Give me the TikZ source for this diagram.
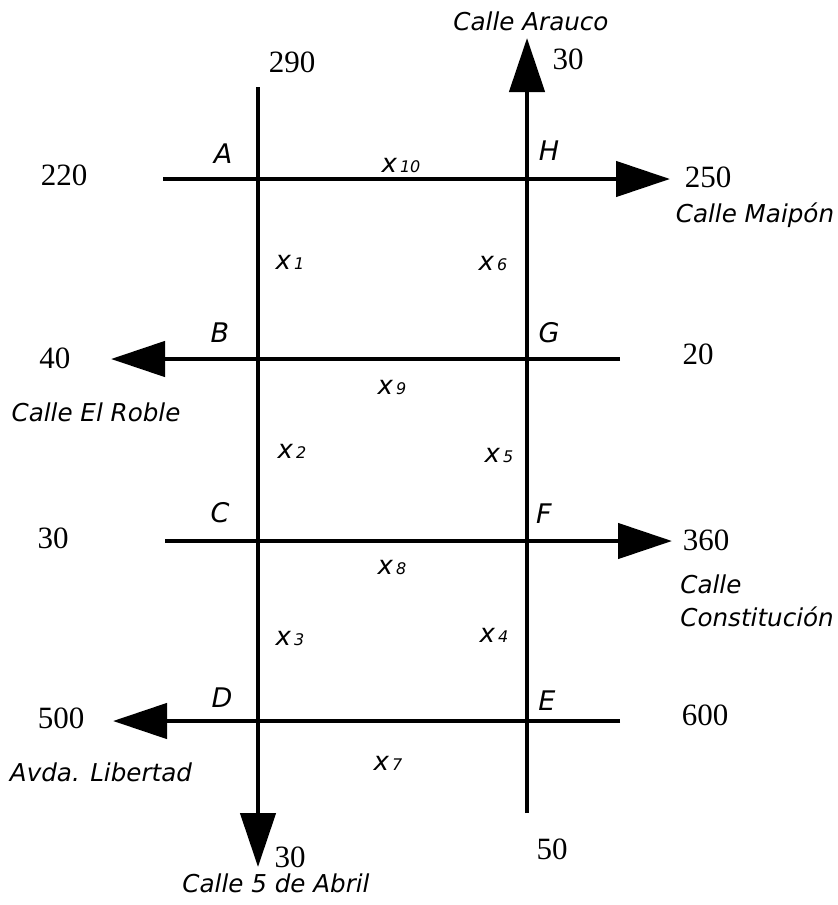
\documentclass[tikz,border=0pt]{standalone}
\usepackage{fontspec}
\setmainfont{Liberation Serif}
\newfontfamily\verdana{DejaVu Sans}
\usepackage{tikz}
\usetikzlibrary{arrows.meta,positioning}

\newcommand{\flujo}[1]{x\kern1.5pt{\fontsize{8}{9}\selectfont #1}}

\begin{document}
\begin{tikzpicture}[x=0.5pt,y=-0.5pt,
        calle/.style={line width=2.3pt},
        sentido/.style={calle,-{Triangle[length=27pt,width=17.5pt]}},
        cantidad/.style={font=\fontsize{15.5}{18}\selectfont,inner sep=0pt},
        esquina/.style={font=\verdana\itshape\fontsize{13.5}{15}\selectfont,inner sep=0pt},
        incognita/.style={font=\verdana\itshape\fontsize{13}{15}\selectfont,inner sep=0pt},
        nombre/.style={font=\verdana\itshape\fontsize{12.3}{16.5}\selectfont,inner sep=0pt,align=left}]
        \useasboundingbox (0,0) rectangle (837,905);
        % intersections
        \coordinate (A) at (258,179);
        \coordinate (B) at (258,359);
        \coordinate (C) at (258,541);
        \coordinate (D) at (258,721);
        \coordinate (H) at (527,179);
        \coordinate (G) at (527,359);
        \coordinate (F) at (527,541);
        \coordinate (E) at (527,721);
        % free ends of the streets
        \coordinate (abrilN) at (258,87);
        \coordinate (abrilS) at (258,867);
        \coordinate (araucoN) at (527,38);
        \coordinate (araucoS) at (527,813);
        \coordinate (maiponW) at (163,179);
        \coordinate (maiponE) at (670,179);
        \coordinate (robleW) at (111,359);
        \coordinate (robleE) at (620,359);
        \coordinate (constW) at (165,541);
        \coordinate (constE) at (672,541);
        \coordinate (libW) at (113,721);
        \coordinate (libE) at (620,721);
        % streets
        \draw[sentido] (abrilN) -- (A) -- (B) -- (C) -- (D) -- (abrilS);
        \draw[sentido] (araucoS) -- (E) -- (F) -- (G) -- (H) -- (araucoN);
        \draw[sentido] (maiponW) -- (A) -- (H) -- (maiponE);
        \draw[sentido] (robleE) -- (G) -- (B) -- (robleW);
        \draw[sentido] (constW) -- (C) -- (F) -- (constE);
        \draw[sentido] (libE) -- (E) -- (D) -- (libW);
        % corner letters
        \node[esquina, anchor=base] (lblA) at (223,163) {A};
        \node[esquina, anchor=base] (lblB) at (220,342) {B};
        \node[esquina, anchor=base] (lblC) at (220,522) {C};
        \node[esquina, anchor=base] (lblD) at (222,707) {D};
        \node[esquina, anchor=base] (lblH) at (549,160) {H};
        \node[esquina, anchor=base] (lblG) at (549,342) {G};
        \node[esquina, anchor=base] (lblF) at (544,523) {F};
        \node[esquina, anchor=base] (lblE) at (547,710) {E};
        % unknown flows
        \node[incognita] (x10) at (401,165) {\flujo{10}};
        \node[incognita] (x1) at (290,262) {\flujo{1}};
        \node[incognita] (x6) at (493,263) {\flujo{6}};
        \node[incognita] (x9) at (392,387) {\flujo{9}};
        \node[incognita] (x2) at (292,451) {\flujo{2}};
        \node[incognita] (x5) at (499,455) {\flujo{5}};
        \node[incognita] (x8) at (392,567) {\flujo{8}};
        \node[incognita] (x3) at (290,638) {\flujo{3}};
        \node[incognita] (x4) at (494,635) {\flujo{4}};
        \node[incognita] (x7) at (388,763) {\flujo{7}};
        % known flows
        \node[cantidad] (q290) at (292,62) {290};
        \node[cantidad] (q30a) at (568,59) {30};
        \node[cantidad] (q220) at (64,175) {220};
        \node[cantidad] (q250) at (708,177) {250};
        \node[cantidad] (q40) at (55,358) {40};
        \node[cantidad] (q20) at (698,354) {20};
        \node[cantidad] (q30b) at (53,538) {30};
        \node[cantidad] (q360) at (706,540) {360};
        \node[cantidad] (q500) at (61,718) {500};
        \node[cantidad] (q600) at (705,715) {600};
        \node[cantidad] (q30c) at (290,857) {30};
        \node[cantidad] (q50) at (552,849) {50};
        % street names
        \node[nombre, anchor=base] (arauco) at (531,30) {Calle Arauco};
        \node[nombre, anchor=base] (maipon) at (755,222) {Calle Maipón};
        \node[nombre, anchor=base] (roble) at (96,421) {Calle El Roble};
        \node[nombre, anchor=north west] (constitucion) at (680,574) {Calle\\Constitución};
        \node[nombre, anchor=base] (libertad) at (101,781) {Avda. Libertad};
        \node[nombre, anchor=base] (abril) at (276,892) {Calle 5 de Abril};
    \end{tikzpicture}
\end{document}
